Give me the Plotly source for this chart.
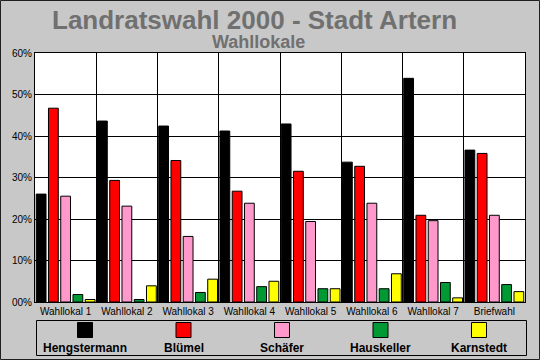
import plotly.graph_objects as go

categories = ["Wahllokal 1", "Wahllokal 2", "Wahllokal 3", "Wahllokal 4",
              "Wahllokal 5", "Wahllokal 6", "Wahllokal 7", "Briefwahl"]
hengstermann = [26.0, 43.6, 42.4, 41.2, 42.9, 33.7, 53.9, 36.6]
bluemel      = [46.7, 29.3, 34.1, 26.7, 31.5, 32.7, 20.9, 35.8]
schaefer     = [25.5, 23.1, 15.8, 23.8, 19.4, 23.8, 19.6, 20.9]
hauskeller   = [1.8, 0.6, 2.3, 3.7, 3.2, 3.2, 4.7, 4.2]
karnstedt    = [0.6, 3.9, 5.5, 5.0, 3.2, 6.8, 1.0, 2.5]
series_names = ["Hengstermann", "Blümel", "Schäfer", "Hauskeller", "Karnstedt"]
series_colors = ["#000000", "#FF0000", "#FF99CC", "#009933", "#FFFF00"]
y_tickvals = [0, 10, 20, 30, 40, 50, 60]
y_ticktext = ["00%", "10%", "20%", "30%", "40%", "50%", "60%"]

W, H = 540, 360
L, R, T, B = 35, 15, 53, 58
PW, PH = W - L - R, H - T - B

def px(x):
    return (x - L) / PW

def py(y):
    return (H - B - y) / PH

fig = go.Figure()
for name, vals, col in zip(series_names,
                           [hengstermann, bluemel, schaefer, hauskeller, karnstedt],
                           series_colors):
    fig.add_trace(go.Bar(x=categories, y=vals, name=name,
                         marker=dict(color=col, line=dict(color="black", width=1)),
                         showlegend=False))

bg = "#C8C8C8"
shapes = []
annotations = []
# outer border
shapes.append(dict(type="rect", xref="paper", yref="paper",
                   x0=px(0.5), x1=px(W - 0.5), y0=py(H - 0.5), y1=py(0.5),
                   line=dict(color="#202020", width=1), fillcolor="rgba(0,0,0,0)", layer="below"))
# legend box
shapes.append(dict(type="rect", xref="paper", yref="paper",
                   x0=px(36.5), x1=px(526.5), y0=py(355.5), y1=py(320.5),
                   line=dict(color="black", width=1), fillcolor=bg))
centers = [85, 183.5, 282, 380.5, 479]
for c, name, col in zip(centers, series_names, series_colors):
    shapes.append(dict(type="rect", xref="paper", yref="paper",
                       x0=px(c - 7.5), x1=px(c + 7.5), y0=py(337.5), y1=py(322.5),
                       line=dict(color="black", width=1), fillcolor=col))
    annotations.append(dict(text="<b>" + name + "</b>", xref="paper", yref="paper",
                            x=px(c), y=py(347.5), xanchor="center", yanchor="middle",
                            showarrow=False,
                            font=dict(family="Liberation Sans, Arial", size=12, color="black")))
# titles
annotations.append(dict(text="<b>Landratswahl 2000 - Stadt Artern</b>", xref="paper", yref="paper",
                        x=px(254), y=py(20), xanchor="center", yanchor="middle", showarrow=False,
                        font=dict(family="Liberation Sans, Arial", size=26, color="#707070")))
annotations.append(dict(text="<b>Wahllokale</b>", xref="paper", yref="paper",
                        x=px(258), y=py(42), xanchor="center", yanchor="middle", showarrow=False,
                        font=dict(family="Liberation Sans, Arial", size=18, color="#707070")))

fig.update_layout(
    width=W, height=H,
    margin=dict(l=L, r=R, t=T, b=B),
    paper_bgcolor=bg, plot_bgcolor="white",
    barmode="group", bargap=0.0, bargroupgap=0.2,
    font=dict(family="Liberation Sans, Arial", size=10, color="black"),
    shapes=shapes, annotations=annotations,
    xaxis=dict(type="category", tickson="boundaries", showgrid=True, gridcolor="black",
               gridwidth=1, showline=True, linecolor="black", linewidth=1, mirror=True,
               ticks="", tickfont=dict(size=10), fixedrange=True),
    yaxis=dict(range=[0, 60], tickvals=y_tickvals, ticktext=y_ticktext, showgrid=True,
               gridcolor="black", gridwidth=1, showline=True, linecolor="black",
               linewidth=1, mirror=True, ticks="", zeroline=False,
               tickfont=dict(size=10), fixedrange=True),
)
fig.write_html("out.html", config={"displayModeBar": False},
               post_script="document.body.style.margin='0';document.body.style.overflow='hidden';")
